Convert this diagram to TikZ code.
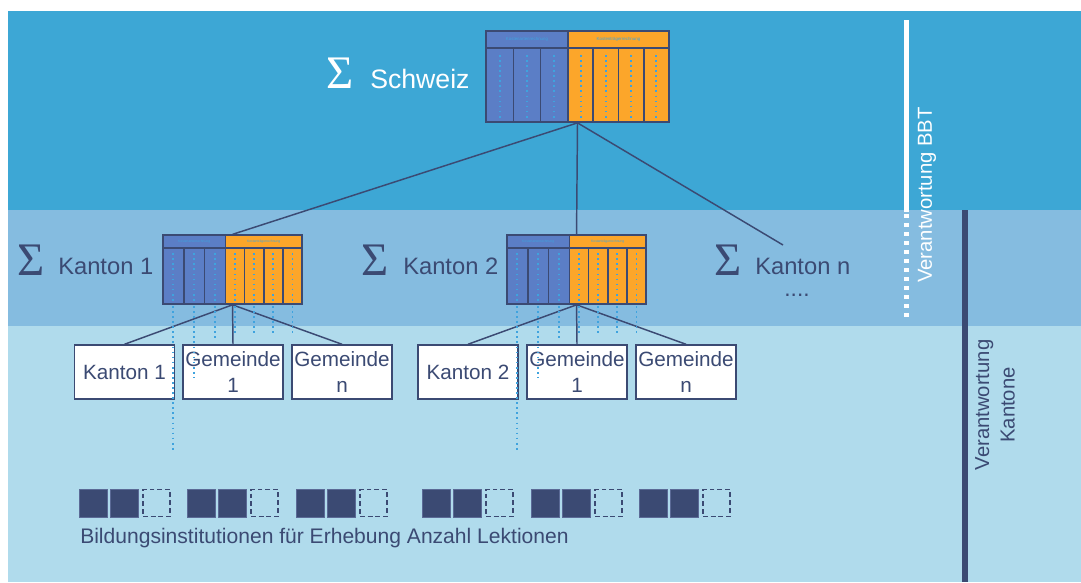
\documentclass[tikz,border=0pt]{standalone}
\usepackage{fontspec}
\setmainfont{Liberation Sans}
\newfontfamily\sigfont{Liberation Serif}
\definecolor{navy}{HTML}{3B4A73}
\definecolor{topband}{HTML}{3DA7D5}
\definecolor{midband}{HTML}{85BCE0}
\definecolor{botband}{HTML}{B0DBEC}
\definecolor{tblue}{HTML}{5B7EC6}
\definecolor{torange}{HTML}{FCA62A}
\definecolor{ltxt}{HTML}{3FA3DE}
\definecolor{instedge}{HTML}{5B6A96}
\newcommand\costtable[4]{%
\begin{scope}[shift={(#2,#3)}, scale=#4]
  \fill[tblue] (0,0) rectangle (82,91);
  \fill[torange] (82,0) rectangle (183,91);
  \foreach \cx in {13.67,41,68.33,94.6,119.9,145.1,170.4} \draw[coltext] (\cx,24) -- (\cx,87);
  \node[transform shape, inner sep=0pt, text=ltxt, font=\fontsize{3.3}{4}\selectfont] (#1-h1) at (41,8.5) {Kostenartenrechnung};
  \node[transform shape, inner sep=0pt, text=ltxt, font=\fontsize{3.3}{4}\selectfont] (#1-h2) at (132.5,8.5) {Kostenträgerrechnung};
  \draw[navy, line width=1.2pt] (0,17) -- (183,17);
  \foreach \cx in {27.33,54.67,107.25,132.5,157.75} \draw[navy, line width=1.2pt] (\cx,17) -- (\cx,91);
  \draw[navy, line width=1.2pt] (82,0) -- (82,91);
  \node[transform shape, draw=navy, line width=1.3pt, minimum width=137.25pt, minimum height=68.25pt, inner sep=0pt] (#1) at (91.5,45.5) {};
\end{scope}}
\begin{document}
\begin{tikzpicture}[x=0.75pt,y=-0.75pt,
  conn/.style={draw=navy, line width=1.1pt},
  box/.style={draw=navy, line width=1.1pt, fill=white, minimum width=75pt, minimum height=40.5pt, inner sep=0pt, align=center, font=\fontsize{15.5}{19.5}\selectfont, text=navy},
  lbl/.style={inner sep=0pt, anchor=west, font=\fontsize{17.8}{20}\selectfont, text=navy},
  sig/.style={inner sep=0pt, font=\sigfont\fontsize{35}{40}\selectfont},
  coltext/.style={draw=ltxt, line width=1.4pt, dash pattern=on 1.3pt off 2.5pt},
  inst/.style={fill=navy, draw=instedge, line width=0.6pt, minimum size=21pt, inner sep=0pt},
  instopen/.style={draw=navy, line width=1.2pt, dash pattern=on 3.6pt off 2.2pt, minimum size=20.25pt, inner sep=0pt},
]
\useasboundingbox (0,0) rectangle (1081,582);
% bands
\fill[topband] (8,11) rectangle (1081,210);
\fill[midband] (8,210) rectangle (1081,326);
\fill[botband] (8,326) rectangle (1081,582);
% responsibility lines
\draw[white, line width=3.75pt] (906.5,20) -- (906.5,212);
\draw[white, line width=3.75pt, dash pattern=on 3pt off 3.75pt] (906.5,214) -- (906.5,322);
\draw[navy, line width=4pt] (965,210) -- (965,582);
\node[rotate=90, text=white, font=\fontsize{15.2}{18}\selectfont, inner sep=0pt] (vbbt) at (927,195) {Verantwortung BBT};
\node[rotate=90, text=navy, align=center, font=\fontsize{15.2}{19}\selectfont, inner sep=0pt] (vkt) at (995,405) {Verantwortung\\Kantone};
% tables
\costtable{ch}{486}{31}{1}
\costtable{kt1}{163}{235}{0.76}
\costtable{kt2}{507}{235}{0.76}
% connectors from Schweiz
\coordinate (kn-end) at (783,245);
\draw[conn] (ch.south) -- (kt1.north);
\draw[conn] (ch.south) -- (kt2.north);
\draw[conn] (ch.south) -- (kn-end);
% boxes
\node[box] (b11) at (124.5,372) {Kanton 1};
\node[box] (b12) at (233,372) {Gemeinde\\1};
\node[box] (b13) at (342,372) {Gemeinde\\n};
\node[box] (b21) at (468,372) {Kanton 2};
\node[box] (b22) at (577,372) {Gemeinde\\1};
\node[box] (b23) at (686,372) {Gemeinde\\n};
\draw[conn] (kt1.south) -- (b11.north);
\draw[conn] (kt1.south) -- (b12.north);
\draw[conn] (kt1.south) -- (b13.north);
\draw[conn] (kt2.south) -- (b21.north);
\draw[conn] (kt2.south) -- (b22.north);
\draw[conn] (kt2.south) -- (b23.north);
% overflowing column texts
\foreach \cx/\ey in {173.4/450, 194.2/378, 214.9/340, 234.9/336, 254.1/336, 273.3/336, 292.5/336}{
  \draw[coltext] (\cx,306) -- (\cx,\ey);
  \draw[coltext] (\cx+344,306) -- (\cx+344,\ey);
}
% labels
\node[sig, text=white] (ch-sig) at (340.5,73.5) {Σ};
\node[lbl, text=white, font=\fontsize{20}{22}\selectfont] (ch-lbl) at (370,79) {Schweiz};
\node[sig, text=navy] (k1-sig) at (31.5,260.5) {Σ};
\node[lbl] (k1-lbl) at (58,266.5) {Kanton 1};
\node[sig, text=navy] (k2-sig) at (375,260.5) {Σ};
\node[lbl] (k2-lbl) at (403,266.5) {Kanton 2};
\node[sig, text=navy] (kn-sig) at (728,260.5) {Σ};
\node[lbl] (kn-lbl) at (755,266.5) {Kanton n};
\node[font=\fontsize{17}{20}\selectfont, text=navy, anchor=base, inner sep=0pt] (kn-dots) at (797,296) {....};
% institutions
\foreach \gx [count=\i] in {79,187,296,422,531,639}{
  \node[inst] (sq\i-a) at (\gx+14,503) {};
  \node[inst] (sq\i-b) at (\gx+45,503) {};
  \node[instopen] (sq\i-c) at (\gx+77.5,503) {};
}
\node[anchor=base west, inner sep=0pt, font=\fontsize{15.8}{18}\selectfont, text=navy] (bild) at (80,543) {Bildungsinstitutionen für Erhebung Anzahl Lektionen};
\end{tikzpicture}
\end{document}
